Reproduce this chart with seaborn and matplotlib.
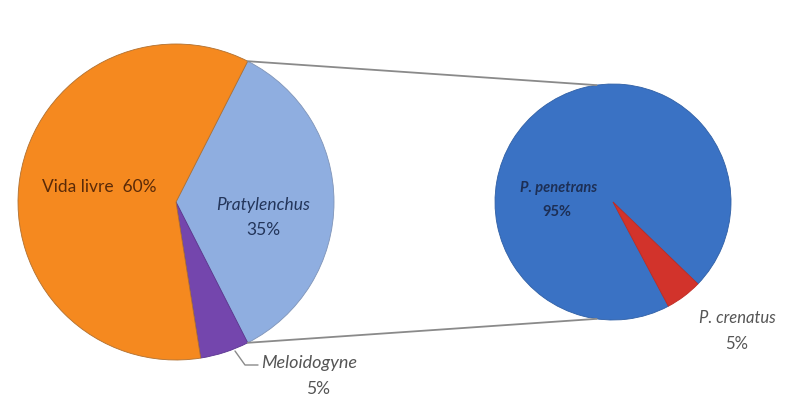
import numpy as np
import seaborn as sns
import matplotlib.pyplot as plt

# main pie
main_labels = ["Pratylenchus", "Meloidogyne", "Vida livre"]
main_values = [35, 5, 60]
main_colors = ["#8faee0", "#7446ad", "#f5891f"]

# secondary pie (breakdown of Pratylenchus)
sub_labels = ["P. penetrans", "P. crenatus"]
sub_values = [95, 5]
sub_colors = ["#3a72c4", "#d2332b"]

sns.set_theme(style="white")
plt.rcParams['font.family'] = ['Lato', 'DejaVu Sans']

W, H = 792, 398
fig = plt.figure(figsize=(W / 100, H / 100), dpi=100)
ax = fig.add_axes([0, 0, 1, 1])

c1, r1 = (176, H - 202), 158
c2, r2 = (613, H - 202), 118

w1, _ = ax.pie(main_values, colors=main_colors, startangle=63, counterclock=False,
               center=c1, radius=r1, frame=True,
               wedgeprops=dict(edgecolor="#b07030", linewidth=0.6))
w1[0].set_edgecolor("#7f94b8")
w1[1].set_edgecolor("#5a3590")

w2, _ = ax.pie(sub_values, colors=sub_colors, startangle=-44, counterclock=True,
               center=c2, radius=r2, frame=True,
               wedgeprops=dict(edgecolor="#2f5fa5", linewidth=0.6))
w2[1].set_edgecolor("#c02a22")

# connector lines from the Pratylenchus slice to the secondary pie
t_top = np.deg2rad(w1[0].theta2)
t_bot = np.deg2rad(w1[0].theta1)
p_top = (c1[0] + r1 * np.cos(t_top), c1[1] + r1 * np.sin(t_top))
p_bot = (c1[0] + r1 * np.cos(t_bot), c1[1] + r1 * np.sin(t_bot))
q_top = (c2[0] + r2 * np.cos(np.deg2rad(98)), c2[1] + r2 * np.sin(np.deg2rad(98)))
q_bot = (c2[0] + r2 * np.cos(np.deg2rad(-98)), c2[1] + r2 * np.sin(np.deg2rad(-98)))
ax.plot([p_top[0], q_top[0]], [p_top[1], q_top[1]], color="#8a8a8a", lw=1.3)
ax.plot([p_bot[0], q_bot[0]], [p_bot[1], q_bot[1]], color="#8a8a8a", lw=1.3)

# labels
ax.text(99, H - 187, f"{main_labels[2]}  {main_values[2]}%", ha="center", va="center",
        fontsize=12.5, color="#5a2a08")
ax.text(263, H - 205, main_labels[0], ha="center", va="center", fontsize=12.5,
        style="italic", color="#23355a")
ax.text(263, H - 230, f"{main_values[0]}%", ha="center", va="center", fontsize=12.5,
        color="#23355a")
ax.plot([235, 245, 258], [H - 351, H - 365, H - 365], color="#8a8a8a", lw=1)
ax.text(261, H - 363, main_labels[1], ha="left", va="center", fontsize=13,
        style="italic", color="#555555")
ax.text(318, H - 389, f"{main_values[1]}%", ha="center", va="center", fontsize=12.5,
        color="#555555")

ax.text(559, H - 188, sub_labels[0], ha="center", va="center", fontsize=10.5,
        style="italic", weight="bold", color="#1d2f55")
ax.text(557, H - 212, f"{sub_values[0]}%", ha="center", va="center", fontsize=10.5,
        weight="bold", color="#1d2f55")
ax.text(737, H - 318, sub_labels[1], ha="center", va="center", fontsize=12,
        style="italic", color="#555555")
ax.text(737, H - 344, f"{sub_values[1]}%", ha="center", va="center", fontsize=12,
        color="#555555")

ax.set_xlim(0, W)
ax.set_ylim(0, H)
ax.set_aspect("auto")
ax.axis("off")
fig.savefig("out.png", dpi=100)
